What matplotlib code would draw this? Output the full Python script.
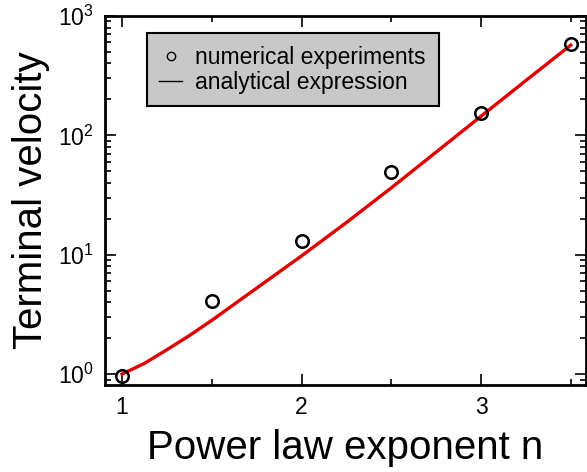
import matplotlib
matplotlib.use("Agg")
import matplotlib.pyplot as plt
from matplotlib.lines import Line2D
from matplotlib.ticker import FixedLocator, FixedFormatter, LogLocator, NullFormatter

plt.rcParams['font.family'] = ['Liberation Sans', 'DejaVu Sans']
plt.rcParams['mathtext.fontset'] = 'custom'
plt.rcParams['mathtext.rm'] = 'Liberation Sans'
plt.rcParams['mathtext.it'] = 'Liberation Sans:italic'

# numerical experiments
n_exp = [1.0, 1.5, 2.0, 2.5, 3.0, 3.5]
v_exp = [0.96, 4.1, 13.1, 49.0, 153.0, 580.0]

# analytical expression
n_an = [1.0, 1.125, 1.25, 1.375, 1.5, 1.75, 2.0, 2.25, 2.5, 2.75, 3.0, 3.25, 3.5]
v_an = [1.0, 1.23, 1.6, 2.1, 2.82, 5.25, 9.77, 18.6, 36.3, 72.4, 144.5, 288.0, 570.0]

x_ticks = [1, 2, 3]
x_ticklabels = ['1', '2', '3']
y_ticks = [1, 10, 100, 1000]
y_ticklabels = [r'$10^0$', r'$10^1$', r'$10^2$', r'$10^3$']

fig = plt.figure(figsize=(5.87, 4.72), dpi=100)
ax = fig.add_axes([105/587, 1-385/472, (586-105)/587, (385-16)/472])

ax.plot(n_an, v_an, color='#e00000', lw=2.4, zorder=2)
ax.plot(n_exp, v_exp, 'o', mfc='none', mec='black', mew=1.8, ms=9, zorder=3)

ax.set_yscale('log')
ax.set_xlim(0.905, 3.585)
ax.set_ylim(0.81, 1000)

ax.xaxis.set_major_locator(FixedLocator(x_ticks))
ax.xaxis.set_major_formatter(FixedFormatter(x_ticklabels))
ax.xaxis.set_minor_locator(FixedLocator([1.5, 2.5, 3.5]))
ax.yaxis.set_major_locator(FixedLocator(y_ticks))
ax.yaxis.set_major_formatter(FixedFormatter(y_ticklabels))
ax.yaxis.set_minor_locator(LogLocator(base=10, subs=range(2, 10)))
ax.yaxis.set_minor_formatter(NullFormatter())

ax.tick_params(which='both', direction='in', top=True, right=True, labelsize=16.5, width=1.2)
ax.tick_params(which='major', length=8, pad=8)
ax.tick_params(which='minor', length=4)
for s in ax.spines.values():
    s.set_linewidth(2)

ax.set_xlabel('Power law exponent n', fontsize=29, labelpad=7)
ax.set_ylabel('Terminal velocity', fontsize=29, labelpad=6)

handles = [Line2D([], [], ls='none', marker='o', mfc='none', mec='black', ms=6, mew=1),
           Line2D([], [], color='black', lw=1)]
leg_w = (439 - 147) / 481
leg_h = (103 - 33) / 369
leg = ax.legend(handles, ['numerical experiments', 'analytical expression'],
                loc='upper left', bbox_to_anchor=(0.087, 0.954 - leg_h, leg_w, leg_h),
                mode='expand', borderaxespad=0,
                fontsize=16.5,
                fancybox=False, framealpha=1, facecolor='#c8c8c8', edgecolor='black',
                handlelength=1.0, handletextpad=0.55, borderpad=0.55, labelspacing=0.1)
leg.get_frame().set_linewidth(1.5)

fig.savefig('out.png', dpi=100)
